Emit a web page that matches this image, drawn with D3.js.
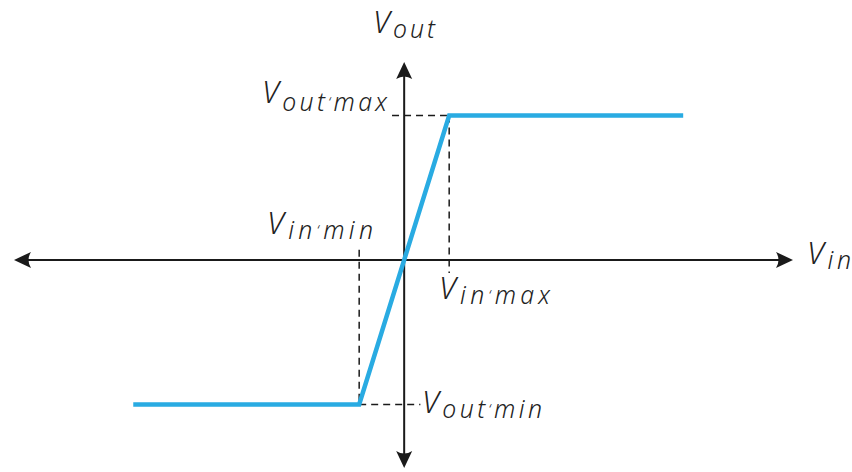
<!DOCTYPE html>
<html>
<head>
<meta charset="utf-8">
<script src="https://cdn.jsdelivr.net/npm/d3@7"></script>
<style>
  body { margin: 0; background: #fff; }
</style>
</head>
<body>
<div id="chart"></div>
<script>
// transfer curve of a saturating amplifier (Vin in units of Vin'max, Vout in units of Vout'max)
var vinPoints = [-6.02, -1, 1, 6.2];
var voutPoints = [-1, -1, 1, 1];
var xAxisExtent = [-8.67, 8.64];
var yAxisExtent = [-1.44, 1.37];

var svgWidth = 852;
var svgHeight = 472;

var svg = d3.select("#chart")
  .append("svg")
  .attr("width", svgWidth)
  .attr("height", svgHeight);

// scales
var xScale = d3.scaleLinear()
  .domain(xAxisExtent)
  .range([14, 793]);

var yScale = d3.scaleLinear()
  .domain(yAxisExtent)
  .range([468, 62]);

var x0 = xScale(0);
var y0 = yScale(0);

var ink = "#1a1a1a";

// dashed guide lines
var guides = [
  // vertical at Vin min
  [[-1, 0.07], [-1, -1]],
  // vertical at Vin max
  [[1, 1], [1, -0.09]],
  // horizontal at Vout max
  [[-0.27, 1], [1, 1]],
  // horizontal at Vout min
  [[-1, -1], [0.36, -1]]
];

svg.selectAll(".guide")
  .data(guides)
  .enter()
  .append("line")
  .attr("class", "guide")
  .attr("x1", d => xScale(d[0][0]))
  .attr("y1", d => yScale(d[0][1]))
  .attr("x2", d => xScale(d[1][0]))
  .attr("y2", d => yScale(d[1][1]))
  .attr("stroke", ink)
  .attr("stroke-width", 1.5)
  .attr("stroke-dasharray", "7,5");

// axes
svg.append("line")
  .attr("x1", xScale(xAxisExtent[0]) + 8)
  .attr("x2", xScale(xAxisExtent[1]) - 8)
  .attr("y1", y0)
  .attr("y2", y0)
  .attr("stroke", ink)
  .attr("stroke-width", 2);

svg.append("line")
  .attr("x1", x0)
  .attr("x2", x0)
  .attr("y1", yScale(yAxisExtent[1]) + 8)
  .attr("y2", yScale(yAxisExtent[0]) - 8)
  .attr("stroke", ink)
  .attr("stroke-width", 2);

// arrow heads (latex style, concave back)
function arrowHead(x, y, angle) {
  svg.append("path")
    .attr("d", "M0,0 L-17,-8 Q-12,0 -17,8 Z")
    .attr("transform", `translate(${x},${y}) rotate(${angle})`)
    .attr("fill", ink);
}
arrowHead(xScale(xAxisExtent[1]), y0, 0);
arrowHead(xScale(xAxisExtent[0]), y0, 180);
arrowHead(x0, yScale(yAxisExtent[1]), -90);
arrowHead(x0, yScale(yAxisExtent[0]), 90);

// transfer curve
var line = d3.line()
  .x((d, i) => xScale(vinPoints[i]))
  .y((d, i) => yScale(voutPoints[i]));

svg.append("path")
  .datum(vinPoints)
  .attr("d", line)
  .attr("fill", "none")
  .attr("stroke", "#29abe2")
  .attr("stroke-width", 4.5)
  .attr("stroke-linejoin", "miter");

// labels: V with subscript, stretched to the width of the latex originals
function label(x, y, sub, anchor, size, subDy, width) {
  var subSize = size * 0.8;
  var t = svg.append("text")
    .attr("x", x)
    .attr("y", y)
    .attr("text-anchor", anchor)
    .attr("font-family", "'Noto Sans', sans-serif")
    .attr("font-style", "italic")
    .attr("font-weight", 300)
    .attr("fill", "#222")
    .attr("font-size", size + "px")
    .attr("textLength", width)
    .attr("lengthAdjust", "spacing");
  t.append("tspan").text("V");
  var parts = sub.split("‘");
  t.append("tspan")
    .attr("dy", subDy)
    .attr("font-size", subSize + "px")
    .text(parts[0]);
  if (parts.length > 1) {
    t.append("tspan")
      .attr("dy", -3)
      .attr("font-size", (size * 0.45) + "px")
      .text("‘");
    t.append("tspan")
      .attr("dy", 3)
      .attr("font-size", subSize + "px")
      .text(parts[1]);
  }
}

label(373, 33, "out", "start", 31, 5, 62);
label(387, 103, "out‘max", "end", 31, 8, 125);
label(267, 234, "in‘min", "start", 31, 5, 106);
label(439, 299, "in‘max", "start", 31, 5, 111);
label(422, 413, "out‘min", "start", 31, 5, 120);
label(807, 264, "in", "start", 31, 5, 44);
</script>
</body>
</html>
